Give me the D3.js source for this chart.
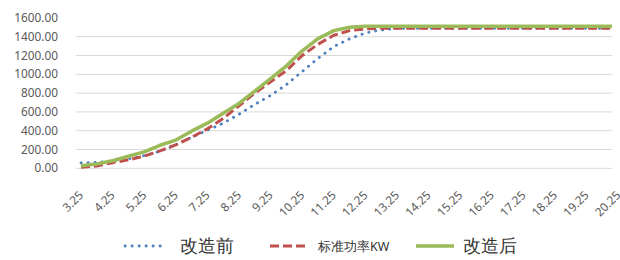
<!DOCTYPE html>
<html>
<head>
<meta charset="utf-8">
<script src="https://cdn.jsdelivr.net/npm/d3@7"></script>
<style>
    body { margin: 0; background: #fff; }
    svg { display: block; font-family: "Noto Sans", sans-serif; }
</style>
</head>
<body>
<svg id="chart" width="620" height="260"></svg>
<script>
// wind speed bins (m/s)
const windSpeeds = [3.25, 3.75, 4.25, 4.75, 5.25, 5.75, 6.25, 6.75, 7.25, 7.75, 8.25, 8.75,
    9.25, 9.75, 10.25, 10.75, 11.25, 11.75, 12.25, 12.75, 13.25, 13.75, 14.25, 14.75,
    15.25, 15.75, 16.25, 16.75, 17.25, 17.75, 18.25, 18.75, 19.25, 19.75, 20.25];
const beforeValues = [58, 62, 80, 100, 135, 180, 250, 330, 405, 480, 575, 680,
    775, 890, 1030, 1170, 1295, 1378, 1440, 1472, 1488, 1490, 1490, 1490,
    1490, 1490, 1490, 1490, 1490, 1490, 1490, 1490, 1490, 1490, 1490];
const standardValues = [10, 25, 60, 90, 130, 185, 250, 330, 420, 530, 665, 800,
    920, 1040, 1200, 1320, 1415, 1465, 1483, 1489, 1490, 1490, 1490, 1490,
    1490, 1490, 1490, 1490, 1490, 1490, 1490, 1490, 1490, 1490, 1490];
const afterValues = [26, 45, 80, 128, 175, 245, 300, 395, 480, 585, 690, 820,
    955, 1090, 1250, 1380, 1465, 1500, 1510, 1510, 1510, 1510, 1510, 1510,
    1510, 1510, 1510, 1510, 1510, 1510, 1510, 1510, 1510, 1510, 1510];
const xTickLabels = ['3.25', '4.25', '5.25', '6.25', '7.25', '8.25', '9.25', '10.25', '11.25',
    '12.25', '13.25', '14.25', '15.25', '16.25', '17.25', '18.25', '19.25', '20.25'];
const yTicks = [0, 200, 400, 600, 800, 1000, 1200, 1400, 1600];
const seriesNames = ['改造前', '标准功率KW', '改造后'];

let svg = d3.select('#chart');
let plotLeft = 76, plotRight = 612;

let x = d3.scaleLinear().domain([3.25, 20.25]).range([81, 81 + 17 * 31.6]);
let y = d3.scaleLinear().domain([0, 1600]).range([168.3, 17.9]);

// gridlines (no line at the top value)
svg.append('g').selectAll('line')
    .data(yTicks.filter(d => d < 1600))
    .join('line')
    .attr('x1', plotLeft).attr('x2', plotRight)
    .attr('y1', d => y(d)).attr('y2', d => y(d))
    .attr('stroke', '#d9d9d9').attr('stroke-width', 1);

// y labels
svg.append('g').selectAll('text')
    .data(yTicks)
    .join('text')
    .attr('x', 58).attr('y', d => y(d))
    .attr('dy', '0.35em')
    .attr('text-anchor', 'end')
    .attr('font-size', 11.8)
    .attr('fill', '#595959')
    .text(d => d3.format('.2f')(d));

// x labels, rotated
svg.append('g').selectAll('text')
    .data(xTickLabels)
    .join('text')
    .attr('transform', d => 'translate(' + (x(+d) + 3) + ',196) rotate(-45)')
    .attr('text-anchor', 'end')
    .attr('font-size', 11.8)
    .attr('fill', '#595959')
    .text(d => d);

svg.append('clipPath').attr('id', 'plotClip')
    .append('rect').attr('x', plotLeft).attr('y', 0).attr('width', plotRight - plotLeft).attr('height', 200);

let styles = [
    {color: '#4f81bd', width: 2.8, dash: '0.3 6.7', cap: 'round'},
    {color: '#c0504d', width: 3, dash: '9 4', cap: 'butt'},
    {color: '#9bbb59', width: 3.5, dash: null, cap: 'butt'}
];
let allSeries = [beforeValues, standardValues, afterValues];

let line = d3.line()
    .x((d, i) => x(windSpeeds[i]))
    .y(d => y(d));

let lines = svg.append('g').attr('clip-path', 'url(#plotClip)');
allSeries.forEach((values, k) => {
    lines.append('path')
        .attr('d', line(values))
        .attr('fill', 'none')
        .attr('stroke', styles[k].color)
        .attr('stroke-width', styles[k].width)
        .attr('stroke-dasharray', styles[k].dash)
        .attr('stroke-linecap', styles[k].cap)
        .attr('stroke-linejoin', 'round');
});

// legend
let legendItems = [
    {sx: 125, tx: 180, size: 18},
    {sx: 270, tx: 318, size: 12.5},
    {sx: 416, tx: 463, size: 18}
];
let legend = svg.append('g');
legendItems.forEach((it, k) => {
    legend.append('line')
        .attr('x1', it.sx).attr('x2', it.sx + 38)
        .attr('y1', 246).attr('y2', 246)
        .attr('stroke', styles[k].color)
        .attr('stroke-width', styles[k].width)
        .attr('stroke-dasharray', styles[k].dash)
        .attr('stroke-linecap', styles[k].cap);
    legend.append('text')
        .attr('x', it.tx).attr('y', 246)
        .attr('dy', '0.36em')
        .attr('font-size', it.size)
        .attr('fill', '#333')
        .text(seriesNames[k]);
});
</script>
</body>
</html>
